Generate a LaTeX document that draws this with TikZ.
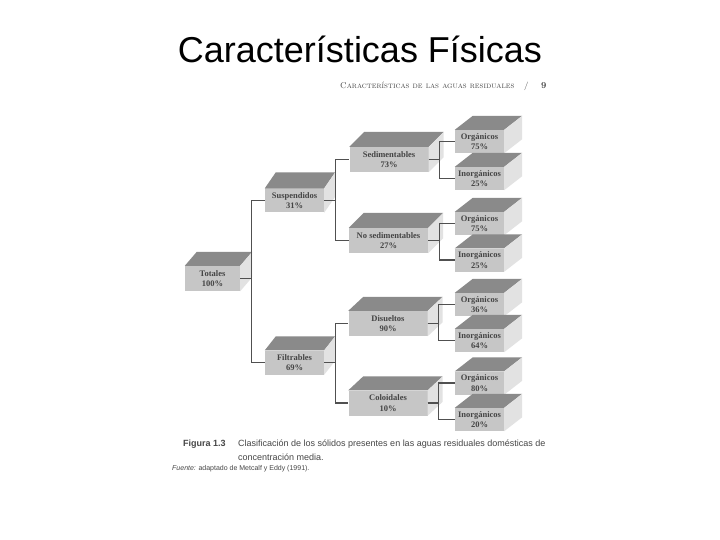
\documentclass[tikz,border=0pt]{standalone}
\usepackage{fontspec}
\newfontfamily\titlefont{Liberation Sans}
\newfontfamily\boxfont{Liberation Serif}
\definecolor{boxfront}{RGB}{198,198,198}
\definecolor{boxtop}{RGB}{138,138,138}
\definecolor{boxside}{RGB}{226,226,226}
\definecolor{boxtext}{RGB}{68,68,68}
\definecolor{linkgray}{RGB}{80,80,80}
\definecolor{capgray}{RGB}{70,70,70}

\begin{document}
\begin{tikzpicture}[x=1pt, y=-1pt,
    frontbox/.style={fill=boxfront, inner sep=0pt, align=center, text=boxtext, font=\boxfont\bfseries\fontsize{8.5}{10.5}\selectfont},
    rootbox/.style={frontbox, minimum width=55pt, minimum height=25pt},
    sidebox/.style={frontbox, minimum width=59pt, minimum height=24pt},
    midbox/.style={frontbox, minimum width=79pt, minimum height=25pt},
    leafbox/.style={frontbox, minimum width=49pt, minimum height=23pt},
    link/.style={draw=linkgray, line width=1.2pt},
    captext/.style={anchor=base west, inner sep=0pt, text=capgray, font=\titlefont\fontsize{9}{10}\selectfont}
  ]
  \fill[white] (0,0) rectangle (720,540);
  \useasboundingbox (0,0) rectangle (720,540);

  % title and page header
  \node[anchor=base, inner sep=0pt, font=\titlefont\fontsize{36}{40}\selectfont] (title) at (360,63) {Características Físicas};
  \node[anchor=base west, inner sep=0pt, text=capgray, font=\fontsize{8.4}{9}\selectfont] (hdr) at (340,89) {\textsc{Características de las aguas residuales}};
  \node[anchor=base west, inner sep=0pt, text=capgray, font=\fontsize{8.5}{9}\selectfont] (slash) at (524,89) {/};
  \node[anchor=base west, inner sep=0pt, text=capgray, font=\bfseries\fontsize{9}{9}\selectfont] (pnum) at (541,89) {9};

  % boxes
  \node[rootbox] (tot) at (212.5,278.5) {Totales\\100\%};
  \node[sidebox] (susp) at (294.5,200.5) {Suspendidos\\31\%};
  \node[sidebox] (filt) at (294.5,362.5) {Filtrables\\69\%};
  \node[midbox] (sedi) at (389,159.5) {Sedimentables\\73\%};
  \node[midbox] (nosed) at (388.5,240.5) {No sedimentables\\27\%};
  \node[midbox] (disu) at (388,323.5) {Disueltos\\90\%};
  \node[midbox] (colo) at (388,403) {Coloidales\\10\%};
  \node[leafbox] (org1) at (479.5,141.5) {Orgánicos\\75\%};
  \node[leafbox] (inorg1) at (479.5,178.5) {Inorgánicos\\25\%};
  \node[leafbox] (org2) at (479.5,223.5) {Orgánicos\\75\%};
  \node[leafbox] (inorg2) at (479.5,260) {Inorgánicos\\25\%};
  \node[leafbox] (org3) at (479.5,304.5) {Orgánicos\\36\%};
  \node[leafbox] (inorg3) at (479.5,340.5) {Inorgánicos\\64\%};
  \node[leafbox] (org4) at (479.5,383) {Orgánicos\\80\%};
  \node[leafbox] (inorg4) at (479.5,419.5) {Inorgánicos\\20\%};

  % top and side faces
  \foreach \b/\dx/\dy in {tot/12/14, susp/11/16, filt/11/14, sedi/15/15, nosed/15/15, disu/15/14, colo/15/14,
      org1/18/14, inorg1/18/14, org2/18/14, inorg2/18/14, org3/18/14, inorg3/18/14, org4/18/14, inorg4/18/14} {
    \fill[boxtop] (\b.north west) -- ++(\dx,-\dy) -- ([shift={(\dx,-\dy)}]\b.north east) -- (\b.north east) -- cycle;
    \fill[boxside] (\b.north east) -- ++(\dx,-\dy) -- ([shift={(\dx,-\dy)}]\b.south east) -- (\b.south east) -- cycle;
  }

  % connectors
  \draw[link] (tot.east) -- ++(11,0) |- (susp.west);
  \draw[link] (tot.east) -- ++(11,0) |- (filt.west);
  \draw[link] (susp.east) -- ++(11,0) |- (sedi.west);
  \draw[link] (susp.east) -- ++(11,0) |- (nosed.west);
  \draw[link] (filt.east) -- ++(11,0) |- (disu.west);
  \draw[link] (filt.east) -- ++(11,0) |- (colo.west);
  \draw[link] (sedi.east) -- ++(11,0) |- (org1.west);
  \draw[link] (sedi.east) -- ++(11,0) |- (inorg1.west);
  \draw[link] (nosed.east) -- ++(11,0) |- (org2.west);
  \draw[link] (nosed.east) -- ++(11,0) |- (inorg2.west);
  \draw[link] (disu.east) -- ++(11,0) |- (org3.west);
  \draw[link] (disu.east) -- ++(11,0) |- (inorg3.west);
  \draw[link] (colo.east) -- ++(11,0) |- (org4.west);
  \draw[link] (colo.east) -- ++(11,0) |- (inorg4.west);

  % caption
  \node[captext, font=\titlefont\bfseries\fontsize{9}{10}\selectfont] (fig) at (183,446) {Figura 1.3};
  \node[captext] (cap1) at (238,446) {Clasificación de los sólidos presentes en las aguas residuales domésticas de};
  \node[captext] (cap2) at (238,460) {concentración media.};
  \node[captext, font=\titlefont\fontsize{7}{8}\selectfont] (src) at (172,470) {\textit{Fuente:} adaptado de Metcalf y Eddy (1991).};
\end{tikzpicture}
\end{document}
